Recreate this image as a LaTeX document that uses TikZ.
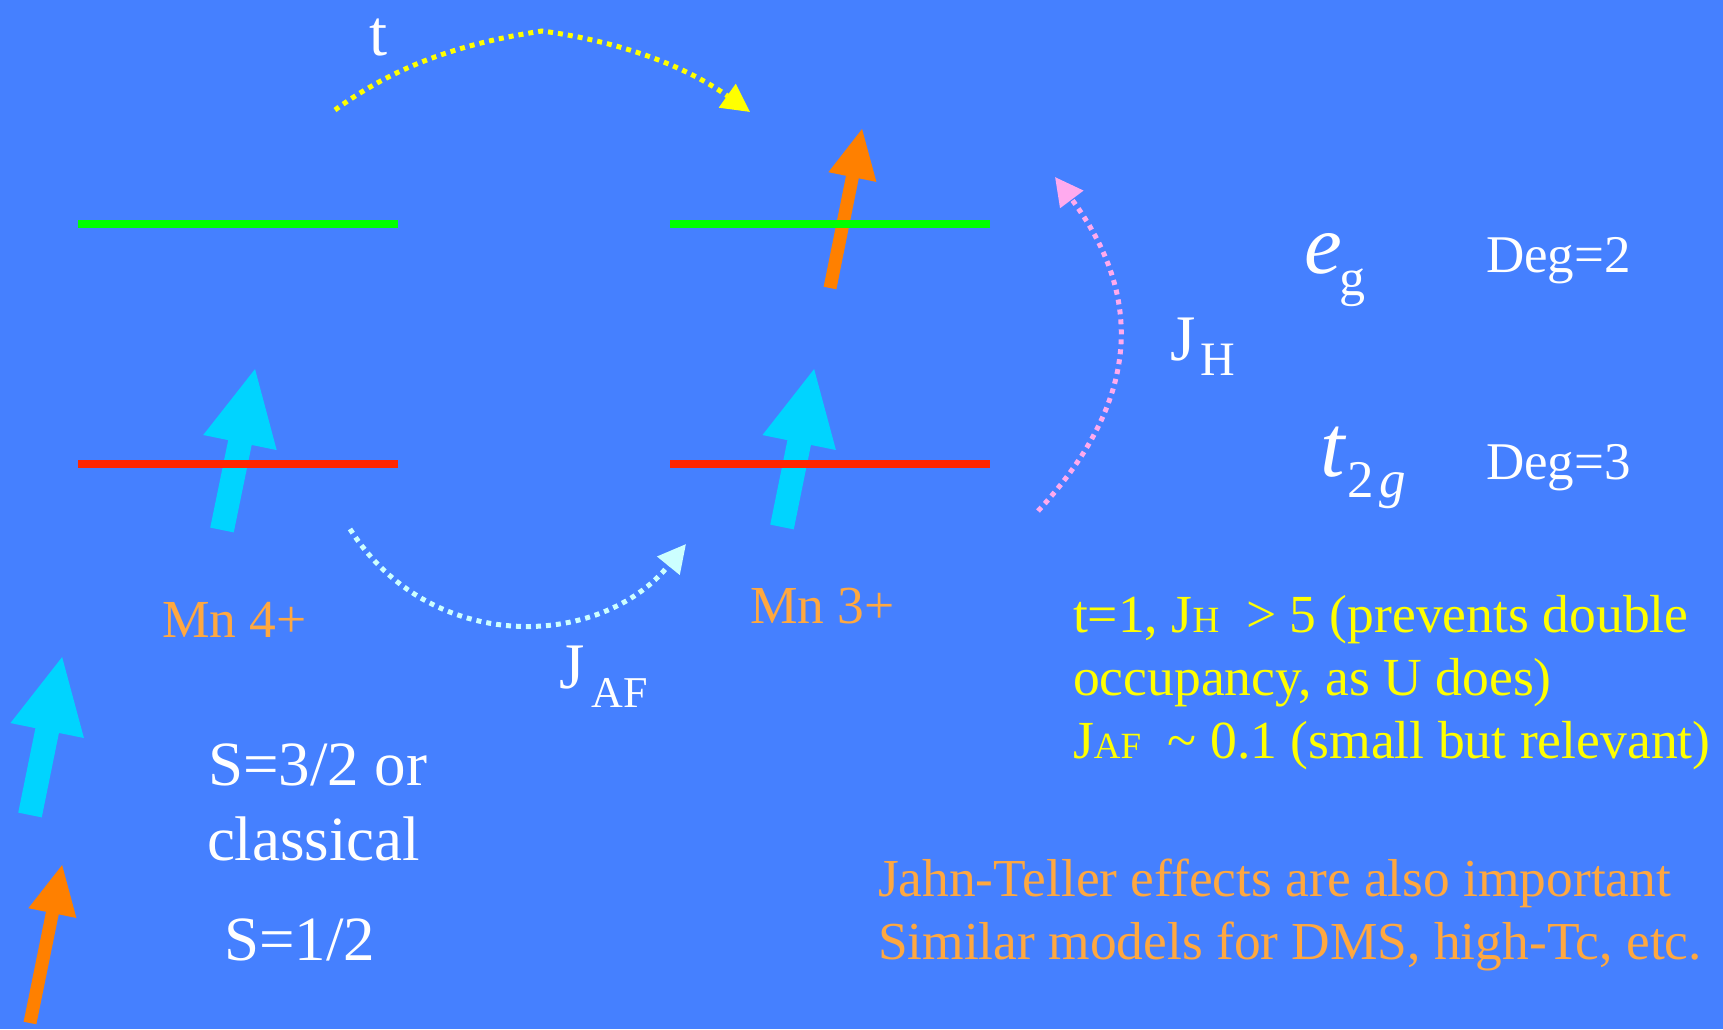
\documentclass[tikz,border=0pt]{standalone}
\usepackage{fontspec}
\setmainfont{Liberation Serif}
\usetikzlibrary{arrows.meta}
\definecolor{bgblue}{RGB}{69,128,255}
\definecolor{spincyan}{RGB}{0,212,255}
\definecolor{spinorange}{RGB}{255,128,0}
\definecolor{levgreen}{RGB}{0,255,0}
\definecolor{levred}{RGB}{255,38,0}
\definecolor{mnorange}{RGB}{255,168,64}
\definecolor{hopyellow}{RGB}{255,255,0}
\definecolor{hoplight}{RGB}{204,255,255}
\definecolor{hoppink}{RGB}{255,170,238}
\newcommand\fsz[1]{\fontsize{#1}{#1}\selectfont}
\tikzset{
  pics/spin/.style n args={5}{code={
    \fill[#5] (0,#2) -- ({#1-#4},#2) -- ({#1-#4},#3) -- (#1,0) -- ({#1-#4},-#3) -- ({#1-#4},-#2) -- (0,-#2) -- cycle;}},
  level/.style={line width=8pt},
  hop/.style={line width=5pt, dash pattern=on 5pt off 5pt, -{Triangle[length=28pt,width=28pt]}},
  lbl/.style={anchor=base west, inner sep=0pt, outer sep=0pt},
  wtxt/.style={lbl, text=white},
}
\begin{document}
\begin{tikzpicture}[x=1pt,y=-1pt]
\path[use as bounding box, fill=bgblue] (0,0) rectangle (1723,1029);

% spin arrows
\pic[rotate=78.4] at (222,530) {spin={164.3}{12}{37.5}{75}{spincyan}};
\pic[rotate=78.5] at (782,527) {spin={161.2}{12}{37.5}{75}{spincyan}};
\pic[rotate=78.6] at (830,288) {spin={162.2}{6.5}{24.5}{49}{spinorange}};
\pic[rotate=78.5] at (30,815) {spin={161.2}{12}{37.5}{75}{spincyan}};
\pic[rotate=78.5] at (30,1023) {spin={161.2}{6.5}{24.5}{49}{spinorange}};

% levels
\draw[level, levgreen] (78,224) -- (398,224);
\draw[level, levgreen] (670,224) -- (990,224);
\draw[level, levred] (78,464) -- (398,464);
\draw[level, levred] (670,464) -- (990,464);

% hopping / exchange connectors
\coordinate (tS) at (335,110);
\coordinate (tM) at (542,31);
\coordinate (tE) at (750,112);
\draw[hop, hopyellow] (tS) .. controls (400,62) and (470,42) .. (tM) .. controls (610,40) and (680,62) .. (tE);

\coordinate (afS) at (350,529);
\coordinate (afE) at (686,544);
\draw[hop, hoplight] (afS) .. controls (430,655) and (600,650) .. (afE);

\coordinate (jhS) at (1038,511);
\coordinate (jhE) at (1055,177);
\draw[hop, hoppink] (jhS) .. controls (1140,401.5) and (1145,297) .. (jhE);

% labels
\node[wtxt, font=\fsz{65}] (tlab) at (369,55) {t};
\node[wtxt, font=\fsz{65}] (jhlab) at (1170,360) {J\kern5pt\raisebox{-15pt}{\fsz{48}H}};
\node[wtxt, font=\fsz{65}] (jaflab) at (559,688) {J\kern7pt\raisebox{-19pt}{\fsz{44}AF}};
\node[wtxt, font=\fsz{85}] (eglab) at (1304,273) {\itshape e\kern-2pt\raisebox{-22pt}{\upshape\fsz{52}g}};
\node[wtxt, font=\fsz{88}] (t2glab) at (1320,476) {\itshape t\kern3pt\raisebox{-21pt}{\fsz{53}\upshape 2\kern6pt\itshape g}};
\node[wtxt, font=\fsz{53}] (deg2) at (1486,272) {Deg=2};
\node[wtxt, font=\fsz{53}] (deg3) at (1486,479) {Deg=3};

\node[lbl, text=mnorange, font=\fsz{53.5}] (mn4) at (162,637) {Mn 4+};
\node[lbl, text=mnorange, font=\fsz{53.5}] (mn3) at (750,623) {Mn 3+};

\node[wtxt, font=\fsz{63}] (s32a) at (208,785) {S=3/2 or};
\node[wtxt, font=\fsz{63}] (s32b) at (207,860) {classical};
\node[wtxt, font=\fsz{63}] (s12) at (224,960) {S=1/2};

\node[lbl, text=hopyellow, font=\fsz{53.6}] (yl1) at (1073,632) {t=1, J{\fsz{37}H}\ \ > 5 (prevents double};
\node[lbl, text=hopyellow, font=\fsz{53.6}] (yl2) at (1073,695) {occupancy, as U does)};
\node[lbl, text=hopyellow, font=\fsz{53.6}] (yl3) at (1073,758) {J{\fsz{37}AF}\ \ \textasciitilde\ 0.1 (small but relevant)};

\node[lbl, text=mnorange, font=\fsz{53.4}] (or1) at (878,896) {Jahn-Teller effects are also important};
\node[lbl, text=mnorange, font=\fsz{53.4}] (or2) at (878,959) {Similar models for DMS, high-Tc, etc.};
\end{tikzpicture}
\end{document}
